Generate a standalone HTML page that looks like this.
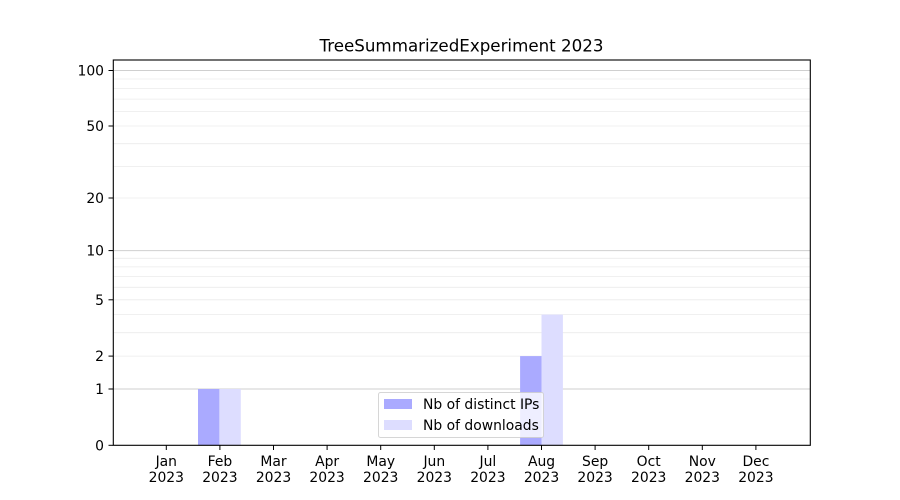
<!DOCTYPE html>
<html><head><meta charset="utf-8"><style>
html,body{margin:0;padding:0;background:#fff;}
svg{display:block;font-family:"DejaVu Sans","Liberation Sans",sans-serif;}
</style></head><body>
<svg width="900" height="500" viewBox="0 0 900 500" xmlns="http://www.w3.org/2000/svg">
<rect width="900" height="500" fill="#fff"/>
<!-- minor grid -->
<g stroke="#ebebeb" stroke-width="0.8">
<line x1="113" x2="810" y1="356.1" y2="356.1"/>
<line x1="113" x2="810" y1="332.7" y2="332.7"/>
<line x1="113" x2="810" y1="314.6" y2="314.6"/>
<line x1="113" x2="810" y1="299.8" y2="299.8"/>
<line x1="113" x2="810" y1="287.3" y2="287.3"/>
<line x1="113" x2="810" y1="276.4" y2="276.4"/>
<line x1="113" x2="810" y1="266.9" y2="266.9"/>
<line x1="113" x2="810" y1="258.3" y2="258.3"/>
<line x1="113" x2="810" y1="198.0" y2="198.0"/>
<line x1="113" x2="810" y1="166.4" y2="166.4"/>
<line x1="113" x2="810" y1="143.7" y2="143.7"/>
<line x1="113" x2="810" y1="126.0" y2="126.0"/>
<line x1="113" x2="810" y1="111.4" y2="111.4"/>
<line x1="113" x2="810" y1="99.1" y2="99.1"/>
<line x1="113" x2="810" y1="88.4" y2="88.4"/>
<line x1="113" x2="810" y1="79.0" y2="79.0"/>
</g>
<!-- major grid -->
<g stroke="#cfcfcf" stroke-width="1">
<line x1="113" x2="810" y1="389.0" y2="389.0"/>
<line x1="113" x2="810" y1="250.6" y2="250.6"/>
<line x1="113" x2="810" y1="70.5" y2="70.5"/>
</g>
<!-- bars -->
<rect x="198" y="389.0" width="21.4" height="56.3" fill="#aaaaff"/>
<rect x="219.4" y="389.0" width="21.4" height="56.3" fill="#ddddff"/>
<rect x="520.1" y="356.1" width="21.4" height="89.2" fill="#aaaaff"/>
<rect x="541.5" y="314.6" width="21.4" height="130.7" fill="#ddddff"/>
<!-- legend -->
<rect x="378.5" y="392.5" width="165" height="45" rx="2" ry="2" fill="#fff" fill-opacity="0.8" stroke="#cccccc" stroke-opacity="0.8" stroke-width="1"/>
<rect x="384" y="399" width="28" height="10" fill="#aaaaff"/>
<rect x="384" y="420" width="28" height="10" fill="#ddddff"/>
<text x="423" y="409" font-size="13.9" fill="#000">Nb of distinct IPs</text>
<text x="423" y="430" font-size="13.9" fill="#000">Nb of downloads</text>
<!-- axes -->
<rect x="113.3" y="60" width="697" height="385.3" fill="none" stroke="#000" stroke-width="1.1"/>
<!-- y ticks -->
<g stroke="#000" stroke-width="1">
<line x1="108.5" x2="113" y1="445.3" y2="445.3"/>
<line x1="108.5" x2="113" y1="389.0" y2="389.0"/>
<line x1="108.5" x2="113" y1="356.1" y2="356.1"/>
<line x1="108.5" x2="113" y1="299.8" y2="299.8"/>
<line x1="108.5" x2="113" y1="250.6" y2="250.6"/>
<line x1="108.5" x2="113" y1="198.0" y2="198.0"/>
<line x1="108.5" x2="113" y1="126.0" y2="126.0"/>
<line x1="108.5" x2="113" y1="70.5" y2="70.5"/>
</g>
<g font-size="13.9" text-anchor="end" fill="#000">
<text x="104" y="450.3">0</text>
<text x="104" y="394.0">1</text>
<text x="104" y="361.1">2</text>
<text x="104" y="304.8">5</text>
<text x="104" y="255.6">10</text>
<text x="104" y="203.0">20</text>
<text x="104" y="131.0">50</text>
<text x="104" y="75.5">100</text>
</g>
<!-- x ticks -->
<g stroke="#000" stroke-width="1">
<line x1="166.3" x2="166.3" y1="445.3" y2="450"/>
<line x1="219.9" x2="219.9" y1="445.3" y2="450"/>
<line x1="273.5" x2="273.5" y1="445.3" y2="450"/>
<line x1="327.1" x2="327.1" y1="445.3" y2="450"/>
<line x1="380.7" x2="380.7" y1="445.3" y2="450"/>
<line x1="434.3" x2="434.3" y1="445.3" y2="450"/>
<line x1="487.9" x2="487.9" y1="445.3" y2="450"/>
<line x1="541.5" x2="541.5" y1="445.3" y2="450"/>
<line x1="595.1" x2="595.1" y1="445.3" y2="450"/>
<line x1="648.7" x2="648.7" y1="445.3" y2="450"/>
<line x1="702.3" x2="702.3" y1="445.3" y2="450"/>
<line x1="755.9" x2="755.9" y1="445.3" y2="450"/>
</g>
<g font-size="13.9" text-anchor="middle" fill="#000">
<text x="166.3" y="466">Jan</text><text x="166.3" y="482">2023</text>
<text x="219.9" y="466">Feb</text><text x="219.9" y="482">2023</text>
<text x="273.5" y="466">Mar</text><text x="273.5" y="482">2023</text>
<text x="327.1" y="466">Apr</text><text x="327.1" y="482">2023</text>
<text x="380.7" y="466">May</text><text x="380.7" y="482">2023</text>
<text x="434.3" y="466">Jun</text><text x="434.3" y="482">2023</text>
<text x="487.9" y="466">Jul</text><text x="487.9" y="482">2023</text>
<text x="541.5" y="466">Aug</text><text x="541.5" y="482">2023</text>
<text x="595.1" y="466">Sep</text><text x="595.1" y="482">2023</text>
<text x="648.7" y="466">Oct</text><text x="648.7" y="482">2023</text>
<text x="702.3" y="466">Nov</text><text x="702.3" y="482">2023</text>
<text x="755.9" y="466">Dec</text><text x="755.9" y="482">2023</text>
</g>
<text x="461.5" y="51.5" font-size="16.7" text-anchor="middle" fill="#000">TreeSummarizedExperiment 2023</text>
</svg>
</body></html>
